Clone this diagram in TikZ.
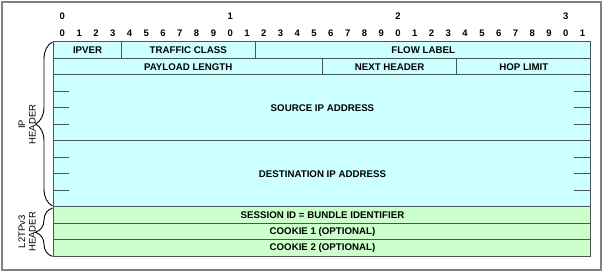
\documentclass[tikz,border=0pt]{standalone}
\usepackage{fontspec}
\setmainfont{Liberation Sans}
\usepackage{tikz}
\usetikzlibrary{decorations.pathreplacing}

\definecolor{ipcyan}{HTML}{CCFFFF}
\definecolor{l2green}{HTML}{CCFFCC}
\definecolor{edgec}{RGB}{72,88,88}
\def\bw{16.78pt}
\def\rh{16.5pt}

\begin{document}
\begin{tikzpicture}[
          x=16.78pt, y=-16.5pt,
          font=\fontsize{9.5}{10.5}\selectfont,
          field/.style={draw=edgec, line width=1pt, inner sep=0pt, outer sep=0pt,
              anchor=north west, minimum height=\rh, font=\fontsize{9.7}{10.5}\selectfont\bfseries},
          bits/.style={minimum width=#1*\bw},
          rows/.style={minimum height=#1*\rh},
          ip/.style={field, fill=ipcyan},
          l2/.style={field, fill=l2green},
          bitnum/.style={font=\fontsize{9.5}{10}\selectfont\bfseries, inner sep=0pt},
          tick/.style={draw=edgec, line width=1pt},
          brace/.style={decorate, decoration={brace, amplitude=17pt}, line width=0.9pt},
          side/.style={rotate=90, align=center, inner sep=0pt},
          frame/.style={draw=gray, line width=2pt}
        ]

        \useasboundingbox (-3.218,-2.545) rectangle (32.777,14.0);
        \draw[frame] (-3.099,-2.424) rectangle (32.598,13.818);

        % -------- Bit numbers --------
        \foreach \t in {0,1,2,3}
          \node[bitnum] (t\t) at (\t*10+0.5,-1.576) {\t};
        \foreach \i in {0,...,31} {
          \pgfmathtruncatemacro\d{mod(\i,10)}
          \node[bitnum] (b\i) at (\i+0.5,-0.545) {\d};
        }

        % -------- IP header --------
        \node[ip, bits=4]  (ipv) at (0,0)  {IPVER};
        \node[ip, bits=8]  (tc)  at (4,0)  {TRAFFIC CLASS};
        \node[ip, bits=20] (fl)  at (12,0) {FLOW LABEL};
        \node[ip, bits=16] (pl)  at (0,1)  {PAYLOAD LENGTH};
        \node[ip, bits=8]  (nh)  at (16,1) {NEXT HEADER};
        \node[ip, bits=8]  (hop) at (24,1) {HOP LIMIT};
        \node[ip, bits=32, rows=4] (src) at (0,2) {SOURCE IP ADDRESS};
        \node[ip, bits=32, rows=4] (dst) at (0,6) {DESTINATION IP ADDRESS};

        % word ticks inside the addresses
        \foreach \n in {src,dst}
          \foreach \k in {1,2,3} {
            \draw[tick] ([yshift=-\k*\rh]\n.north west) -- ++(15pt,0);
            \draw[tick] ([yshift=-\k*\rh]\n.north east) -- ++(-17pt,0);
          }

        % -------- L2TPv3 header --------
        \node[l2, bits=32] (ses) at (0,10) {SESSION ID = BUNDLE IDENTIFIER};
        \node[l2, bits=32] (ck1) at (0,11) {COOKIE 1 (OPTIONAL)};
        \node[l2, bits=32] (ck2) at (0,12) {COOKIE 2 (OPTIONAL)};

        % -------- Braces and labels --------
        \draw[brace] ([xshift=-1.5pt, yshift=1pt]dst.south west) -- ([xshift=-1.5pt]ipv.north west);
        \draw[brace] ([xshift=-1.5pt]ck2.south west) -- ([xshift=-1.5pt, yshift=-1pt]ses.north west);
        \node[side] (iplab) at (-1.6,5)    {IP\\HEADER};
        \node[side] (l2lab) at (-1.6,11.5) {L2TPv3\\HEADER};

      \end{tikzpicture}
\end{document}
